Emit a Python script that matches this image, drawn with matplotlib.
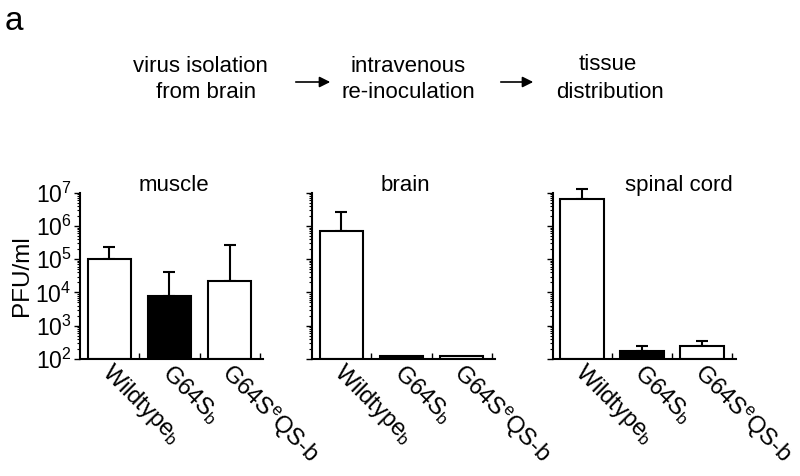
import matplotlib
matplotlib.use("Agg")
import matplotlib.pyplot as plt
import numpy as np
from matplotlib.ticker import LogLocator, NullFormatter, FixedLocator

plt.rcParams['font.family'] = ['Liberation Sans', 'DejaVu Sans']
plt.rcParams['mathtext.fontset'] = 'custom'
plt.rcParams['mathtext.rm'] = 'Liberation Sans'
plt.rcParams['mathtext.it'] = 'Liberation Sans'

tissues = ["muscle", "brain", "spinal cord"]
strains = ["Wildtype$_{b}$", "G64S$_{b}$", "G64S$^{e}$QS-b"]
bar_colors = ["white", "black", "white"]

muscle_vals = [1.05e5, 8.0e3, 2.2e4]
muscle_err = [2.3e5, 4.2e4, 2.7e5]
brain_vals = [7.2e5, 1.2e2, 1.2e2]
brain_err = [2.7e6, 1.2e2, 1.2e2]
spinal_vals = [6.6e6, 1.75e2, 2.45e2]
spinal_err = [1.3e7, 2.45e2, 3.5e2]

values = [muscle_vals, brain_vals, spinal_vals]
err_tops = [muscle_err, brain_err, spinal_err]

fig = plt.figure(figsize=(8, 4.76), dpi=100)

lefts = [0.100, 0.390, 0.691]
width = 0.229
bottom = 0.246
height = 0.349
title_x = [0.51, 0.51, 0.69]

x = np.arange(len(strains))
for i, (tis, vals, tops) in enumerate(zip(tissues, values, err_tops)):
    ax = fig.add_axes([lefts[i], bottom, width, height])
    ax.set_yscale('log')
    ax.set_ylim(1e2, 1e7)
    ax.set_xlim(-0.49, 2.56)
    ax.bar(x, [v - 1e2 for v in vals], bottom=1e2, width=0.73, color=bar_colors,
           edgecolor='black', linewidth=1.5, zorder=2)
    for xi, v, t in zip(x, vals, tops):
        if t > v * 1.05:
            cont = ax.errorbar([xi], [v], yerr=[[0], [t - v]], fmt='none', ecolor='black',
                               elinewidth=1.5, capsize=4.5, capthick=1.5, zorder=1)
            for art in cont.lines[1] + cont.lines[2]:
                art.set_clip_on(False)
    for s in ['top', 'right']:
        ax.spines[s].set_visible(False)
    ax.spines['left'].set_linewidth(1.5)
    ax.spines['bottom'].set_linewidth(1.5)
    ax.yaxis.set_major_locator(LogLocator(base=10, numticks=10))
    ax.yaxis.set_minor_locator(LogLocator(base=10, subs=np.arange(2, 10), numticks=10))
    ax.yaxis.set_minor_formatter(NullFormatter())
    ax.tick_params(axis='y', which='major', length=4, width=1, direction='out', labelsize=16.5, pad=2)
    ax.tick_params(axis='y', which='minor', length=2.5, width=0.8, direction='out')
    if i != 0:
        ax.set_yticklabels([])
    ax.xaxis.set_major_locator(FixedLocator([0.5, 1.5, 2.5]))
    ax.set_xticklabels([])
    ax.tick_params(axis='x', which='major', length=4, width=1, direction='in')
    for xi, lab in zip(x, strains):
        ax.text(xi + 0.08, 0.92e2, lab, rotation=-45, rotation_mode='anchor',
                ha='left', va='top', fontsize=17, transform=ax.transData, clip_on=False)
    ax.text(title_x[i], 1.042, tis, fontsize=16, ha='center', va='center', transform=ax.transAxes)
    if i == 0:
        ax.set_ylabel("PFU/ml", fontsize=17.5, labelpad=2)

fig.text(0.006, 0.955, "a", fontsize=24, ha='left', va='center')
fig.text(200 / 800, 1 - 66 / 476, "virus isolation", fontsize=16, ha='center', va='center')
fig.text(206 / 800, 1 - 93 / 476, "from brain", fontsize=16, ha='center', va='center')
fig.text(408 / 800, 1 - 66 / 476, "intravenous", fontsize=16, ha='center', va='center')
fig.text(408 / 800, 1 - 93 / 476, "re-inoculation", fontsize=16, ha='center', va='center')
fig.text(608 / 800, 1 - 64 / 476, "tissue", fontsize=16, ha='center', va='center')
fig.text(610 / 800, 1 - 93 / 476, "distribution", fontsize=16, ha='center', va='center')
for x0, x1 in [(293, 333), (498, 536)]:
    fig.add_artist(matplotlib.patches.FancyArrowPatch((x0 / 800, 1 - 82 / 476), (x1 / 800, 1 - 82 / 476),
                   transform=fig.transFigure, arrowstyle='-|>', mutation_scale=16,
                   color='black', linewidth=1.2))

fig.savefig("out.png", dpi=100)
